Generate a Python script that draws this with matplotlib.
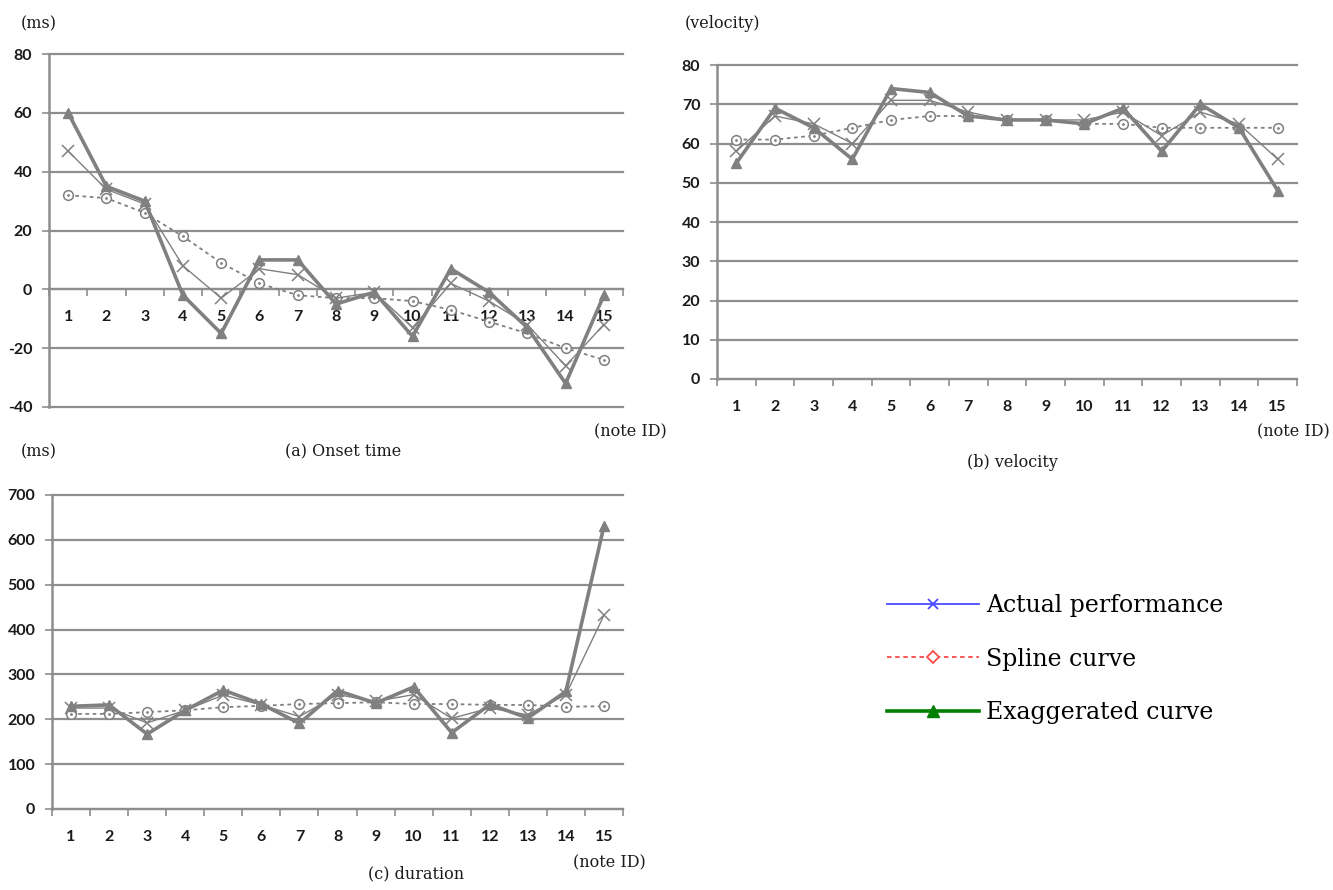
import matplotlib
matplotlib.use('Agg')
import matplotlib.pyplot as plt
from matplotlib.lines import Line2D
import numpy as np

plt.rcParams['axes.unicode_minus'] = False

# note IDs on the x axis
note_ids = list(range(1, 16))

# (a) onset time (ms)
onset_actual = [47, 34, 29, 8, -3, 7, 5, -3, -1, -13, 2, -4, -12, -26, -12]
onset_spline = [32, 31, 26, 18, 9, 2, -2, -3, -3, -4, -7, -11, -15, -20, -24]
onset_exag = [60, 35, 30, -2, -15, 10, 10, -5, -1, -16, 7, -1, -13, -32, -2]

# (b) velocity
vel_actual = [58, 67, 65, 60, 71, 71, 68, 66, 66, 66, 68, 62, 68, 65, 56]
vel_spline = [61, 61, 62, 64, 66, 67, 67, 66, 66, 65, 65, 64, 64, 64, 64]
vel_exag = [55, 69, 64, 56, 74, 73, 67, 66, 66, 65, 69, 58, 70, 64, 48]

# (c) duration (ms)
dur_actual = [225, 225, 192, 220, 254, 232, 206, 255, 240, 255, 202, 225, 210, 255, 432]
dur_spline = [212, 212, 216, 220, 227, 230, 234, 236, 238, 234, 234, 232, 232, 228, 229]
dur_exag = [229, 232, 167, 220, 265, 234, 191, 264, 236, 272, 170, 233, 203, 262, 631]

W, H = 1333, 890
GRAY = '#808080'
GRID = '#8e8e8e'
SERIF = 'DejaVu Serif'
TICKFONT = {'family': 'Lato', 'weight': 'bold', 'size': 11.5}


def px_rect(x0, y0, x1, y1):
    return [x0 / W, 1 - y1 / H, (x1 - x0) / W, (y1 - y0) / H]


def draw_panel(ax, actual, spline, exag, ylo, yhi, ystep):
    ax.set_xlim(0.5, 15.5)
    ax.set_ylim(ylo, yhi)
    ax.set_yticks(np.arange(ylo, yhi + ystep, ystep))
    ax.yaxis.grid(True, color=GRID, linewidth=1.6)
    for gl in ax.get_ygridlines():
        gl.set_clip_on(False)
    ax.set_axisbelow(True)
    for s in ['top', 'right']:
        ax.spines[s].set_visible(False)
    ax.spines['left'].set_color(GRID)
    ax.spines['left'].set_linewidth(1.8)
    ax.spines['bottom'].set_color(GRID)
    ax.spines['bottom'].set_linewidth(1.6)
    if ylo < 0:
        ax.spines['bottom'].set_position(('data', 0))

    ax.set_xticks(note_ids)
    ax.set_xticks(np.arange(0.5, 16, 1), minor=True)
    ax.tick_params(axis='x', which='major', length=0, pad=15)
    ax.tick_params(axis='x', which='minor', length=5, width=1.2, color=GRID, direction='out')
    ax.tick_params(axis='y', length=5, width=1.2, color=GRID, pad=7)
    for lab in ax.get_xticklabels() + ax.get_yticklabels():
        lab.set_fontfamily(TICKFONT['family'])
        lab.set_fontweight(TICKFONT['weight'])
        lab.set_fontsize(TICKFONT['size'])
        lab.set_color('#1a1a1a')

    ax.plot(note_ids, spline, linestyle=(0, (2, 2)), color=GRAY, linewidth=1.3,
            marker='o', markersize=7, markerfacecolor='white', markeredgecolor=GRAY,
            markeredgewidth=1.1, zorder=3, clip_on=False)
    ax.plot(note_ids, spline, linestyle='none', marker='.', markersize=2,
            color=GRAY, zorder=3, clip_on=False)
    ax.plot(note_ids, actual, color=GRAY, linewidth=1.0, marker='x', markersize=8,
            markeredgewidth=1.1, zorder=4, clip_on=False)
    ax.plot(note_ids, exag, color=GRAY, linewidth=2.6, marker='^', markersize=7,
            zorder=5, clip_on=False)


fig = plt.figure(figsize=(W / 100, H / 100), dpi=100)

ax_a = fig.add_axes(px_rect(49, 54, 623, 407))
draw_panel(ax_a, onset_actual, onset_spline, onset_exag, -40, 80, 20)

ax_b = fig.add_axes(px_rect(717, 65, 1297, 379))
draw_panel(ax_b, vel_actual, vel_spline, vel_exag, 0, 80, 10)

ax_c = fig.add_axes(px_rect(52, 495, 623, 809))
draw_panel(ax_c, dur_actual, dur_spline, dur_exag, 0, 700, 100)

# captions and unit labels
labels = [
    ('(ms)', 39, 24),
    ('(note ID)', 630, 432),
    ('(a) Onset time', 343, 452),
    ('(velocity)', 723, 24),
    ('(note ID)', 1293, 432),
    ('(b) velocity', 1012, 463),
    ('(ms)', 39, 452),
    ('(note ID)', 609, 863),
    ('(c) duration', 416, 874),
]
for txt, x, y in labels:
    fig.text(x / W, 1 - y / H, txt, ha='center', va='center', fontsize=11.5,
             family=SERIF, color='#1a1a1a')

handles = [
    Line2D([], [], color='#4a4aff', linewidth=1.3, marker='x', markersize=7,
           markeredgewidth=1.3),
    Line2D([], [], color='#ff4a4a', linewidth=1.3, linestyle=(0, (2.5, 2)),
           marker='D', markersize=6, markerfacecolor='white', markeredgewidth=1.3),
    Line2D([], [], color='#008000', linewidth=2.6, marker='^', markersize=8),
]
names = ['Actual performance', 'Spline curve', 'Exaggerated curve']
fig.legend(handles, names, loc='upper left', bbox_to_anchor=(887 / W, 1 - 594 / H),
           frameon=False, borderpad=0, borderaxespad=0, handlelength=3.9,
           handletextpad=0.3, labelspacing=1.3,
           prop={'family': SERIF, 'size': 17})

fig.savefig('out.png', dpi=100)
plt.close(fig)
